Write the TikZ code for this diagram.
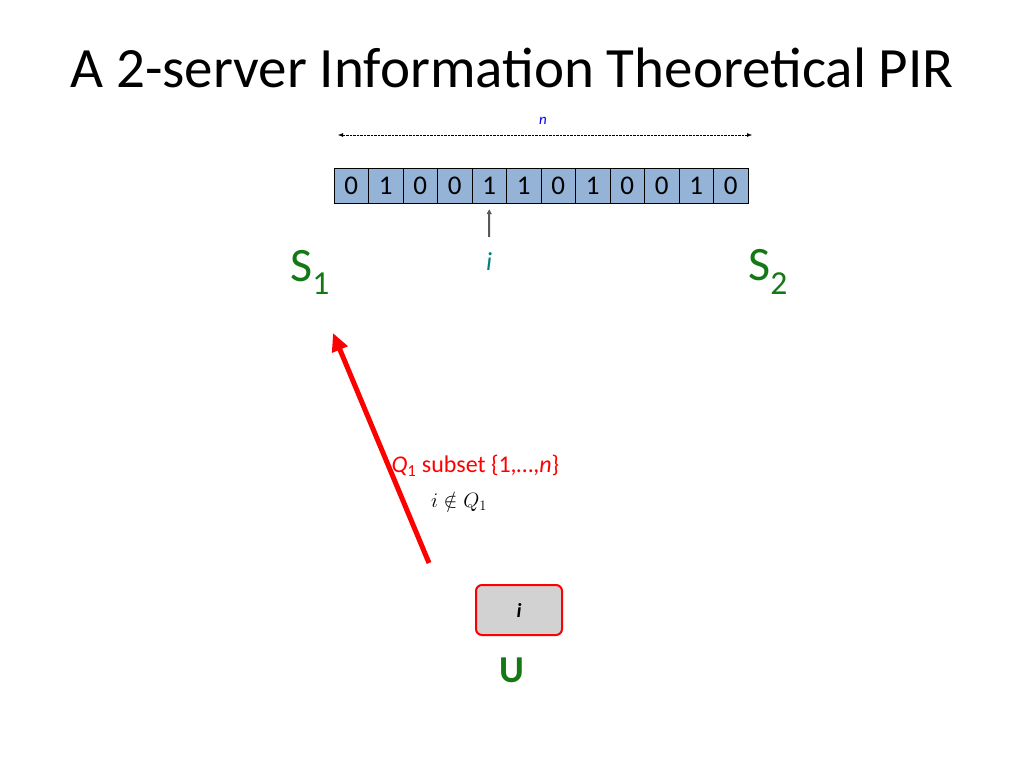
\documentclass[tikz,border=0pt]{standalone}
\usepackage{fontspec}
\setmainfont{Carlito}
\usepackage{amssymb}
\usetikzlibrary{positioning,arrows.meta}
\definecolor{cellblue}{RGB}{149,179,215}
\definecolor{srvgreen}{RGB}{20,120,20}
\definecolor{iteal}{RGB}{0,128,128}
\tikzset{
  cell/.style={draw,fill=cellblue,minimum width=34.5pt,minimum height=35pt,inner sep=0pt,font=\fontsize{27}{27}\selectfont},
  srv/.style={text=srvgreen,font=\fontsize{48}{48}\selectfont,inner sep=0pt}
}
\begin{document}
\begin{tikzpicture}[x=1pt,y=1pt,yscale=-1]
\useasboundingbox (0,0) rectangle (1024,768);
\node[font=\fontsize{57}{57}\selectfont] (title) at (512,68) {A 2-server Information Theoretical PIR};
\foreach \b [count=\k] in {0,1,0,0,1,1,0,1,0,0,1,0}
  \node[cell] (c\k) at ({334+34.5*(\k-0.5)},185.5) {\b};
\coordinate (nl) at (338,135);
\coordinate (nr) at (752,135);
\draw[densely dotted,{Latex[length=5pt]}-{Latex[length=5pt]}] (nl) -- (nr);
\node[text=blue,font=\fontsize{15}{15}\selectfont\itshape] (n) at (543,121) {n};
\node[text=iteal,font=\fontsize{26}{26}\selectfont\itshape] (idx) at (489,262) {i};
\coordinate (ib) at (489,237);
\draw[gray!70!black,line width=2pt,-{Triangle[length=5pt,width=5pt]}] (ib) -- ([yshift=6pt]c5.south);
\node[srv] (s1) at (310,272) {S\textsubscript{1}};
\node[srv] (s2) at (768,272) {S\textsubscript{2}};
\node[draw=red,line width=2pt,fill=gray!35,rounded corners=6pt,minimum width=86pt,minimum height=50pt,font=\fontsize{20}{20}\selectfont\bfseries\itshape] (user) at (519,610) {i};
\node[text=srvgreen,font=\fontsize{38}{38}\selectfont\bfseries] (u) at (512,670) {U};
\coordinate (qs) at (429,563);
\coordinate (qe) at (333,333);
\draw[red,line width=5pt,-{Triangle[length=18pt,width=16pt]}] (qs) -- (qe);
\node[text=red,font=\fontsize{24}{24}\selectfont,anchor=west] (q) at (388,466) {\textit{Q}\textsubscript{1} subset \{1,…,\textit{n}\}};
\node[font=\fontsize{20}{20}\selectfont] (nq) at (459,502) {$i\notin Q_1$};
\end{tikzpicture}
\end{document}
